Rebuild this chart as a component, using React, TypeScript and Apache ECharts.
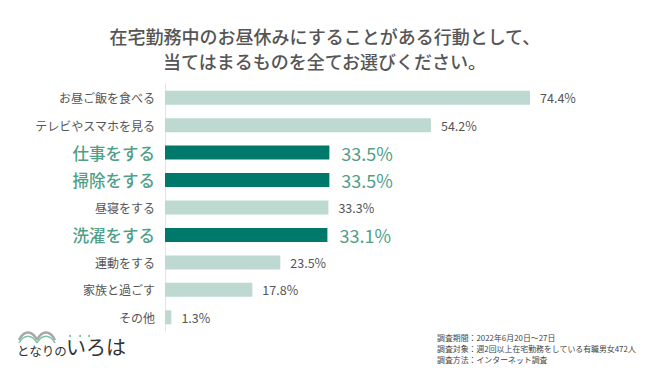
import React, { useEffect, useRef } from "react";
import * as echarts from "echarts";

const categories = [
  "お昼ご飯を食べる",
  "テレビやスマホを見る",
  "仕事をする",
  "掃除をする",
  "昼寝をする",
  "洗濯をする",
  "運動をする",
  "家族と過ごす",
  "その他",
];
const values = [74.4, 54.2, 33.5, 33.5, 33.3, 33.1, 23.5, 17.8, 1.3];
const highlighted = ["仕事をする", "掃除をする", "洗濯をする"];
const titleLines = [
  "在宅勤務中のお昼休みにすることがある行動として、",
  "当てはまるものを全てお選びください。",
];
const notes = [
  "調査期間：2022年6月20日～27日",
  "調査対象：週2回以上在宅勤務をしている有職男女472人",
  "調査方法：インターネット調査",
];

const FONT = "'Noto Sans CJK JP', 'Noto Sans', sans-serif";
const LIGHT = "#bdd9d1";
const DARK = "#00796a";
const HL_TEXT = "#4f9f89";
const TEXT = "#555555";

export default function App() {
  const ref = useRef<HTMLDivElement>(null);
  useEffect(() => {
    if (!ref.current) return;
    const chart = echarts.init(ref.current, null, { renderer: "svg" });
    const isHl = (c: string) => highlighted.includes(c);
    chart.setOption({
      animation: false,
      backgroundColor: "#ffffff",
      textStyle: { fontFamily: FONT },
      graphic: [
        ...titleLines.map((t, i) => ({
          type: "text",
          left: "center",
          top: 27 + i * 25,
          style: {
            text: t,
            fontSize: 18,
            fontWeight: 500,
            fontFamily: FONT,
            fill: "#555555",
          },
        })),
        {
          type: "text",
          left: 437,
          top: 332,
          style: {
            text: notes.join("\n"),
            fontSize: 7.9,
            fontFamily: FONT,
            fill: "#444444",
            lineHeight: 11,
          },
        },
        // logo book arcs
        {
          type: "bezierCurve",
          shape: { x1: 19, y1: 340, x2: 37, y2: 340, cpx1: 24, cpy1: 330, cpx2: 32, cpy2: 330 },
          style: { stroke: "#a8a8a8", lineWidth: 2.5, fill: "none" },
        },
        {
          type: "bezierCurve",
          shape: { x1: 37, y1: 340, x2: 55, y2: 340, cpx1: 42, cpy1: 330, cpx2: 50, cpy2: 330 },
          style: { stroke: "#a8a8a8", lineWidth: 2.5, fill: "none" },
        },
        {
          type: "bezierCurve",
          shape: { x1: 19, y1: 343, x2: 37, y2: 343, cpx1: 24, cpy1: 334, cpx2: 32, cpy2: 334 },
          style: { stroke: "#7cc3a6", lineWidth: 1.5, fill: "none" },
        },
        {
          type: "bezierCurve",
          shape: { x1: 37, y1: 343, x2: 55, y2: 343, cpx1: 42, cpy1: 334, cpx2: 50, cpy2: 334 },
          style: { stroke: "#7cc3a6", lineWidth: 1.5, fill: "none" },
        },
        {
          type: "text",
          left: 17,
          top: 344,
          style: { text: "となりの", fontSize: 12.5, fontFamily: FONT, fill: "#333333" },
        },
        {
          type: "text",
          left: 66,
          top: 336,
          style: { text: "いろは", fontSize: 20, fontFamily: FONT, fill: "#333333" },
        },
        { type: "circle", shape: { cx: 70, cy: 336, r: 1 }, style: { fill: "#5fbf9a" } },
        { type: "circle", shape: { cx: 80, cy: 336, r: 1 }, style: { fill: "#5fbf9a" } },
        { type: "circle", shape: { cx: 89, cy: 336, r: 1 }, style: { fill: "#5fbf9a" } },
      ],
      grid: { left: 165, top: 84, width: 441.6, height: 247, containLabel: false },
      xAxis: {
        type: "value",
        min: 0,
        max: 90,
        show: false,
      },
      yAxis: {
        type: "category",
        data: categories,
        inverse: true,
        axisLine: { show: true, lineStyle: { color: "#e3e3e3", width: 1 } },
        axisTick: { show: false },
        axisLabel: {
          margin: 10,
          formatter: (v: string) => (isHl(v) ? `{h|${v}}` : `{n|${v}}`),
          rich: {
            n: { fontSize: 12, color: TEXT, fontFamily: FONT },
            h: { fontSize: 16.5, color: HL_TEXT, fontFamily: FONT, fontWeight: 500 },
          },
        },
      },
      series: [
        {
          type: "bar",
          barWidth: 14,
          data: categories.map((c, i) => ({
            value: values[i],
            itemStyle: { color: isHl(c) ? DARK : LIGHT },
            label: isHl(c)
              ? { distance: 12, fontSize: 18, color: HL_TEXT }
              : { distance: 10, fontSize: 12.5, color: TEXT },
          })),
          label: {
            show: true,
            position: "right",
            fontFamily: FONT,
            formatter: (p: any) => `${p.value.toFixed(1)}%`,
          },
        },
      ],
    });
    return () => chart.dispose();
  }, []);
  return <div ref={ref} style={{ width: 650, height: 380, margin: -8 }} />;
}
